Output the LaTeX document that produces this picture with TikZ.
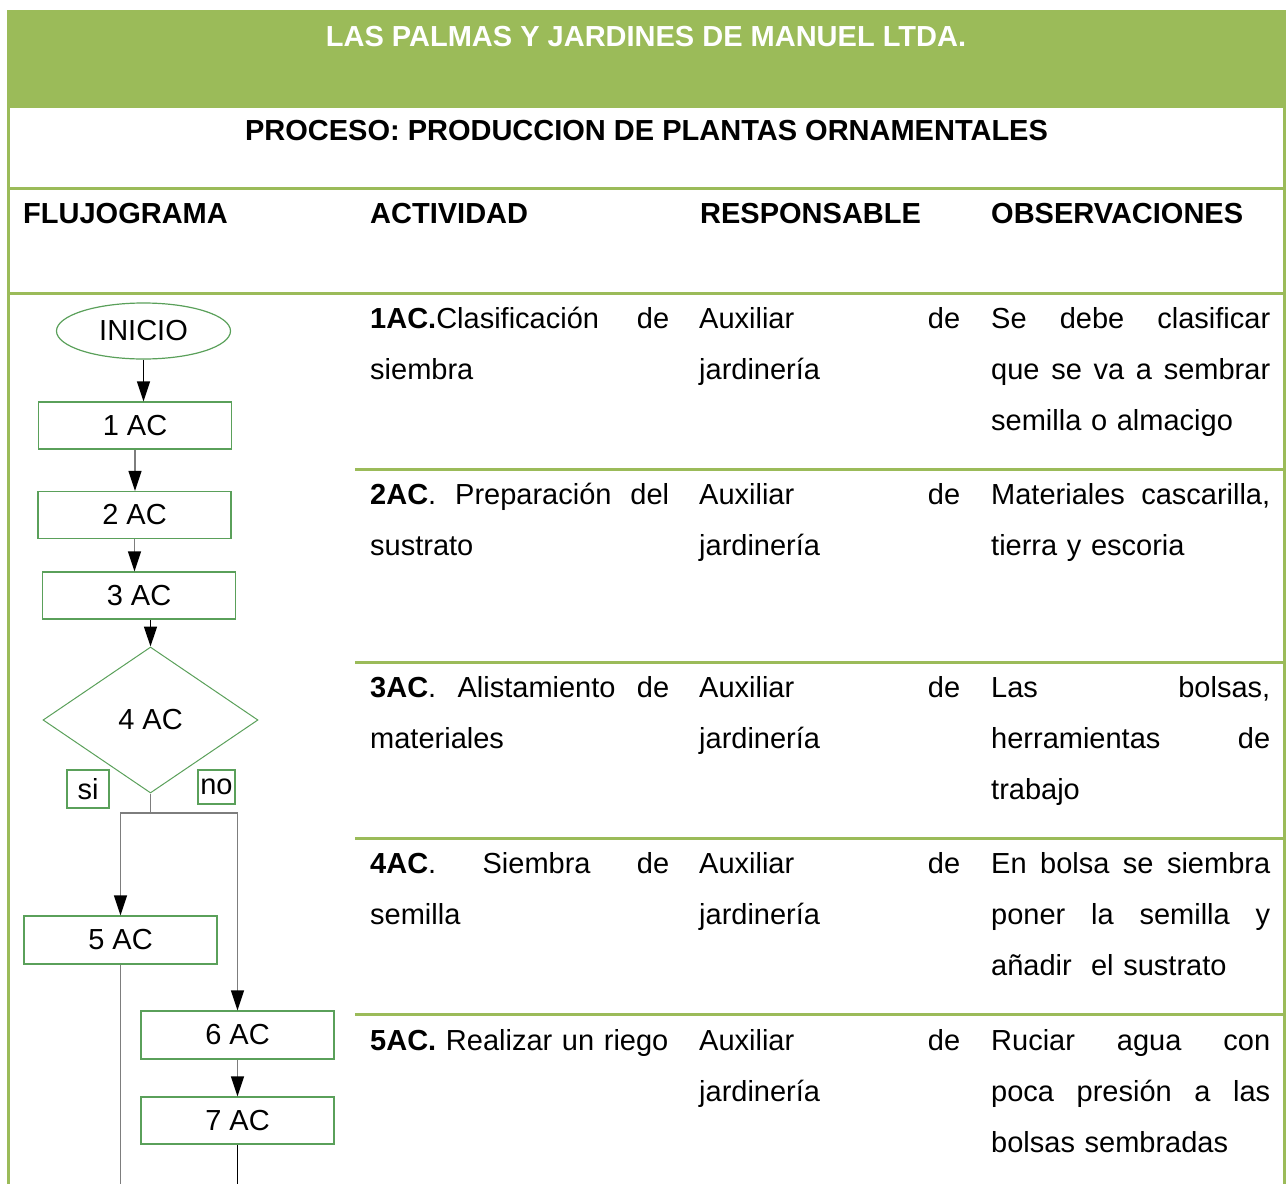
\documentclass[tikz,border=0pt]{standalone}
\usepackage{fontspec}
\setmainfont{Liberation Sans}
\usetikzlibrary{shapes.geometric,arrows.meta}
\definecolor{tablegreen}{RGB}{155,187,89}
\definecolor{flowgreen}{RGB}{90,160,90}
\definecolor{linegray}{RGB}{125,125,125}
\newcommand{\cellfont}{\fontsize{29}{51}\selectfont}

\begin{document}
\begin{tikzpicture}[x=1pt,y=-1pt,
  every node/.style={font=\cellfont},
  cell/.style={anchor=base west, inner sep=0pt, align=left},
  head/.style={inner sep=0pt, font=\cellfont\bfseries},
  acbox/.style={draw=flowgreen, line width=1.2pt, minimum width=193pt, minimum height=47pt, inner sep=0pt},
  tag/.style={draw=flowgreen, line width=1.2pt, inner sep=0pt},
  flow/.style={draw=linegray, line width=1.4pt},
  arr/.style={flow, -{Triangle[length=20pt,width=13pt,color=black]}}]
\useasboundingbox (0,0) rectangle (1286,1184);

\fill[tablegreen] (7,10) rectangle (1286,108);
\draw[tablegreen, line width=3pt] (8.5,108) -- (8.5,1184);
\draw[tablegreen, line width=3pt] (1284.5,108) -- (1284.5,1184);
\draw[tablegreen, line width=3pt] (7,188.5) -- (1286,188.5);
\draw[tablegreen, line width=3pt] (7,293) -- (1286,293);
\foreach \y in {469,662,838,1014}
  \draw[tablegreen, line width=3pt] (355,\y) -- (1284.5,\y);

\node[head, anchor=base, text=white] (empresa) at (646,46) {LAS PALMAS Y JARDINES DE MANUEL LTDA.};
\node[head, anchor=base] (proceso) at (646.5,140) {PROCESO: PRODUCCION DE PLANTAS ORNAMENTALES};
\node[head, anchor=base west] (hflujo) at (23,223) {FLUJOGRAMA};
\node[head, anchor=base west] (hact) at (370,223) {ACTIVIDAD};
\node[head, anchor=base west] (hresp) at (700,223) {RESPONSABLE};
\node[head, anchor=base west] (hobs) at (991,223) {OBSERVACIONES};

\node[cell, text width=299pt] (act1) at (370,328) {\textbf{1AC.}Clasificación\hfill de\\siembra};
\node[cell, text width=261pt] (resp1) at (699,328) {Auxiliar\hfill de\\jardinería};
\node[cell, text width=279pt] (obs1) at (991,328) {Se\hfill debe\hfill clasificar\\que\hfill se\hfill va\hfill a\hfill sembrar\\semilla o almacigo};

\node[cell, text width=299pt] (act2) at (370,504) {\textbf{2AC}.\hfill Preparación\hfill del\\sustrato};
\node[cell, text width=261pt] (resp2) at (699,504) {Auxiliar\hfill de\\jardinería};
\node[cell, text width=279pt] (obs2) at (991,504) {Materiales\hfill cascarilla,\\tierra y escoria};

\node[cell, text width=299pt] (act3) at (370,697) {\textbf{3AC}.\hfill Alistamiento\hfill de\\materiales};
\node[cell, text width=261pt] (resp3) at (699,697) {Auxiliar\hfill de\\jardinería};
\node[cell, text width=279pt] (obs3) at (991,697) {Las\hfill bolsas,\\herramientas\hfill de\\trabajo};

\node[cell, text width=299pt] (act4) at (370,873) {\textbf{4AC}.\hfill Siembra\hfill de\\semilla};
\node[cell, text width=261pt] (resp4) at (699,873) {Auxiliar\hfill de\\jardinería};
\node[cell, text width=279pt] (obs4) at (991,873) {En\hfill bolsa\hfill se\hfill siembra\\poner\hfill la\hfill semilla\hfill y\\añadir~~el sustrato};

\node[cell, text width=299pt] (act5) at (370,1050) {\textbf{5AC.} Realizar un riego};
\node[cell, text width=261pt] (resp5) at (699,1050) {Auxiliar\hfill de\\jardinería};
\node[cell, text width=279pt] (obs5) at (991,1050) {Ruciar\hfill agua\hfill con\\poca\hfill presión\hfill a\hfill las\\bolsas sembradas};

\node[ellipse, draw=flowgreen, line width=1.2pt, minimum width=174pt, minimum height=56pt, inner sep=0pt] (inicio) at (143.5,331) {INICIO};
\node[acbox] (ac1) at (135,425.5) {1 AC};
\node[acbox] (ac2) at (134.5,515) {2 AC};
\node[acbox] (ac3) at (139,595.5) {3 AC};
\node[diamond, draw=flowgreen, line width=1pt, minimum width=215pt, minimum height=146pt, inner sep=0pt] (ac4) at (150.5,720) {4 AC};
\node[tag, minimum width=42pt, minimum height=38pt] (si) at (88,789) {si};
\node[tag, minimum width=37pt, minimum height=34pt] (no) at (216.5,787) {no};
\node[acbox, minimum height=48pt] (ac5) at (120.5,940) {5 AC};
\node[acbox, minimum height=48pt] (ac6) at (237.5,1035) {6 AC};
\node[acbox] (ac7) at (237.5,1120.5) {7 AC};

\coordinate (split) at (150.5,813);
\coordinate (fin5) at (120.5,1184);
\coordinate (fin7) at (237.5,1184);

\draw[arr, draw=black] (inicio.south) -- (inicio.south |- ac1.north);
\draw[arr] (ac1.south) -- (ac1.south |- ac2.north);
\draw[arr] (ac2.south) -- (ac2.south |- ac3.north);
\draw[arr, draw=black] (ac4.north |- ac3.south) -- (ac4.north);
\draw[flow] (ac4.south) -- (split);
\draw[arr] (split) -| (ac5.north);
\draw[arr] (split) -| (ac6.north);
\draw[arr] (ac6.south) -- (ac7.north);
\draw[flow] (ac5.south) -- (fin5);
\draw[flow, draw=black] (ac7.south) -- (fin7);

\end{tikzpicture}
\end{document}
